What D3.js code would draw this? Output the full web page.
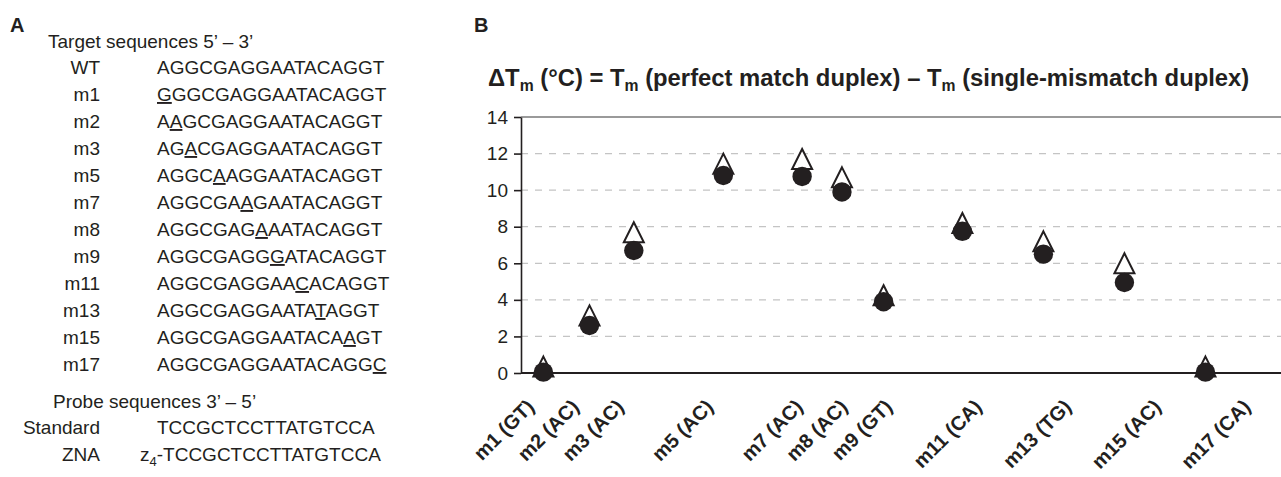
<!DOCTYPE html>
<html>
<head>
<meta charset="utf-8">
<script src="https://cdn.jsdelivr.net/npm/d3@7"></script>
<style>
body { margin: 0; background: #fff; }
text { font-family: "Liberation Sans", Arial, sans-serif; fill: #231f20; }
</style>
</head>
<body>
<svg id="fig" width="1281" height="477"></svg>
<script>
// panel A: sequences
var targetNames = ["WT", "m1", "m2", "m3", "m5", "m7", "m8", "m9", "m11", "m13", "m15", "m17"];
var targetSeqs = [
    "AGGCGAGGAATACAGGT", "GGGCGAGGAATACAGGT", "AAGCGAGGAATACAGGT", "AGACGAGGAATACAGGT",
    "AGGCAAGGAATACAGGT", "AGGCGAAGAATACAGGT", "AGGCGAGAAATACAGGT", "AGGCGAGGGATACAGGT",
    "AGGCGAGGAACACAGGT", "AGGCGAGGAATATAGGT", "AGGCGAGGAATACAAGT", "AGGCGAGGAATACAGGC"
];
var mismatchIndex = [-1, 0, 1, 2, 4, 6, 7, 8, 10, 12, 14, 16];
var probeNames = ["Standard", "ZNA"];

// panel B: delta Tm per mismatch
var mismatches = ["m1 (GT)", "m2 (AC)", "m3 (AC)", "m5 (AC)", "m7 (AC)", "m8 (AC)", "m9 (GT)",
    "m11 (CA)", "m13 (TG)", "m15 (AC)", "m17 (CA)"];
var labelPos = [1, 2, 3, 5, 7, 8, 9, 11, 13, 15, 17];
var pointX = [1, 2.03, 3.02, 5.02, 6.78, 7.67, 8.6, 10.36, 12.17, 13.98, 15.79];
var triangleValues = [0.35, 3.15, 7.7, 11.45, 11.7, 10.7, 4.25, 8.2, 7.2, 6.0, 0.35];
var circleValues = [0.05, 2.6, 6.7, 10.8, 10.75, 9.9, 3.9, 7.75, 6.5, 4.95, 0.05];
var yTicks = [0, 2, 4, 6, 8, 10, 12, 14];

var svg = d3.select("#fig");

// ---------- panel A ----------
var panelA = svg.append("g");
panelA.append("text").attr("x", 10).attr("y", 32)
    .style("font-weight", "bold").style("font-size", "20px").text("A");
panelA.append("text").attr("x", 48).attr("y", 48)
    .style("font-size", "19px").text("Target sequences 5\u2019 \u2013 3\u2019");

var rowY = d3.scaleLinear().domain([0, 1]).range([74, 101]);

targetNames.forEach(function(name, i) {
    panelA.append("text").attr("x", 100).attr("y", rowY(i))
        .style("font-size", "19px").style("text-anchor", "end").text(name);
    var t = panelA.append("text").attr("x", 157).attr("y", rowY(i)).style("font-size", "19px");
    var seq = targetSeqs[i], k = mismatchIndex[i];
    if (k < 0) {
        t.text(seq);
    } else {
        if (k > 0) t.append("tspan").text(seq.slice(0, k));
        t.append("tspan").style("text-decoration", "underline").text(seq[k]);
        if (k < seq.length - 1) t.append("tspan").text(seq.slice(k + 1));
    }
});

panelA.append("text").attr("x", 53).attr("y", 408)
    .style("font-size", "19px").text("Probe sequences 3\u2019 \u2013 5\u2019");
panelA.append("text").attr("x", 100).attr("y", 434)
    .style("font-size", "19px").style("text-anchor", "end").text(probeNames[0]);
panelA.append("text").attr("x", 157).attr("y", 434)
    .style("font-size", "19px").text("TCCGCTCCTTATGTCCA");
panelA.append("text").attr("x", 100).attr("y", 461)
    .style("font-size", "19px").style("text-anchor", "end").text(probeNames[1]);
var zna = panelA.append("text").attr("x", 140).attr("y", 461).style("font-size", "19px");
zna.append("tspan").text("z");
zna.append("tspan").attr("dy", 5).style("font-size", "13px").text("4");
zna.append("tspan").attr("dy", -5).text("-TCCGCTCCTTATGTCCA");

// ---------- panel B ----------
svg.append("text").attr("x", 474).attr("y", 32)
    .style("font-weight", "bold").style("font-size", "20px").text("B");

var title = svg.append("text").attr("x", 488).attr("y", 86)
    .style("font-weight", "bold").style("font-size", "21px");
title.append("tspan").text("\u0394T");
title.append("tspan").attr("dy", 5).attr("class", "sub").text("m");
title.append("tspan").attr("dy", -5).text(" (\u00b0C) = T");
title.append("tspan").attr("dy", 5).attr("class", "sub").text("m");
title.append("tspan").attr("dy", -5).text(" (perfect match duplex) \u2013 T");
title.append("tspan").attr("dy", 5).attr("class", "sub").text("m");
title.append("tspan").attr("dy", -5).text(" (single-mismatch duplex)");
title.selectAll(".sub").style("font-size", "14px");
// fit the title to the width it has in the figure
var titleW = title.node().getComputedTextLength();
var fs = 21 * 762 / titleW;
title.style("font-size", fs + "px");
title.selectAll(".sub").style("font-size", (fs * 0.66) + "px");

var margin = { top: 117, left: 521 },
    width = 761,
    height = 256;

var g = svg.append("g")
    .attr("transform", "translate(" + margin.left + "," + margin.top + ")");

var x = d3.scaleLinear().domain([0.5, 17.5]).range([0, width]);
var y = d3.scaleLinear().domain([0, 14]).range([height, 0]);

// gridlines
g.selectAll(".grid")
    .data(yTicks.filter(function(d) { return d > 0 && d < 14; }))
    .enter().append("line")
    .attr("x1", 0).attr("x2", width)
    .attr("y1", function(d) { return y(d); })
    .attr("y2", function(d) { return y(d); })
    .attr("stroke", "#c4c4c4").attr("stroke-width", 1.2)
    .attr("stroke-dasharray", "7,7");
g.append("line")
    .attr("x1", 0).attr("x2", width).attr("y1", y(14)).attr("y2", y(14))
    .attr("stroke", "#9a9a9a").attr("stroke-width", 1.8);

// y axis
var yAxis = g.append("g")
    .call(d3.axisLeft(y).tickValues(yTicks).tickSize(7).tickSizeOuter(0).tickPadding(6));
yAxis.selectAll("text").style("font-size", "19px").attr("fill", "#231f20")
    .style("font-family", "'Liberation Sans', Arial, sans-serif");
yAxis.selectAll("line, path").attr("stroke", "#231f20").attr("stroke-width", 1.6);

// x axis line
g.append("line")
    .attr("x1", 0).attr("x2", width).attr("y1", y(0)).attr("y2", y(0))
    .attr("stroke", "#231f20").attr("stroke-width", 2);

// x labels
g.selectAll(".xlab")
    .data(mismatches)
    .enter().append("text")
    .attr("class", "xlab")
    .attr("transform", function(d, i) {
        return "translate(" + (x(labelPos[i]) - 8) + "," + (y(0) + 35) + ") rotate(-45)";
    })
    .style("text-anchor", "end")
    .style("font-weight", "bold")
    .style("font-size", "20px")
    .text(function(d) { return d; });

// triangles
var tri = 10;
g.selectAll(".tri")
    .data(triangleValues)
    .enter().append("path")
    .attr("d", "M0," + (-tri) + "L" + tri + "," + tri + "L" + (-tri) + "," + tri + "Z")
    .attr("transform", function(d, i) { return "translate(" + x(pointX[i]) + "," + y(d) + ")"; })
    .attr("fill", "#fff").attr("stroke", "#231f20").attr("stroke-width", 2);

// circles
g.selectAll(".dot")
    .data(circleValues)
    .enter().append("circle")
    .attr("cx", function(d, i) { return x(pointX[i]); })
    .attr("cy", function(d) { return y(d); })
    .attr("r", 9.7)
    .attr("fill", "#231f20");
</script>
</body>
</html>
